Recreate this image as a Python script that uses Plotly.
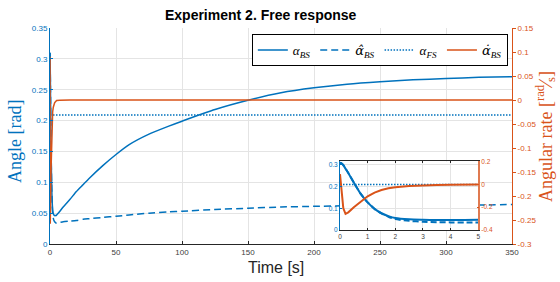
import plotly.graph_objects as go

# ---------------- data ----------------
t_fast = [0, 0.06, 0.12, 0.2, 0.3, 0.5, 0.75, 1.0, 1.25, 1.5, 1.75, 2.0, 2.5, 3.0, 3.5, 4.0, 4.5, 5.0]
alpha_bs_fast = [0.310, 0.306, 0.298, 0.282, 0.262, 0.218, 0.166, 0.127, 0.097, 0.077, 0.064, 0.055,
                 0.049, 0.047, 0.046, 0.046, 0.046, 0.047]
alpha_hat_fast = [0.310, 0.306, 0.298, 0.282, 0.262, 0.218, 0.166, 0.127, 0.097, 0.076, 0.061, 0.050,
                  0.042, 0.038, 0.036, 0.035, 0.034, 0.034]
rate_fast = [0.090, -0.093, -0.210, -0.258, -0.245, -0.200, -0.150, -0.105, -0.072, -0.050, -0.035,
             -0.025, -0.015, -0.009, -0.006, -0.004, -0.002, -0.001]

t_slow = [7.5, 10, 15, 20, 25, 30, 40, 50, 60, 75, 90, 100, 125, 150, 175, 200, 225, 250, 275, 300, 325, 350]
alpha_bs_slow = [0.053, 0.060, 0.072, 0.085, 0.096, 0.107, 0.127, 0.145, 0.161, 0.178, 0.191, 0.199,
                 0.218, 0.233, 0.245, 0.253, 0.259, 0.263, 0.266, 0.268, 0.270, 0.271]
alpha_hat_slow = [0.035, 0.036, 0.037, 0.038, 0.040, 0.041, 0.043, 0.045, 0.047, 0.050, 0.052, 0.053,
                  0.056, 0.058, 0.060, 0.061, 0.062, 0.062, 0.063, 0.063, 0.063, 0.064]
rate_slow = [-0.0005, 0, 0, 0, 0, 0, 0, 0, 0, 0, 0, 0, 0, 0, 0, 0, 0, 0, 0, 0, 0, 0]

t_fs = [0, 350]
alpha_fs = [0.209, 0.209]

x_ticks = [0, 50, 100, 150, 200, 250, 300, 350]
left_ticks = [0, 0.05, 0.1, 0.15, 0.2, 0.25, 0.3, 0.35]
left_labels = ["0", "0.05", "0.1", "0.15", "0.2", "0.25", "0.3", "0.35"]
right_ticks = [-0.3, -0.25, -0.2, -0.15, -0.1, -0.05, 0, 0.05, 0.1, 0.15]
right_labels = ["-0.3", "-0.25", "-0.2", "-0.15", "-0.1", "-0.05", "0", "0.05", "0.1", "0.15"]
inset_x_ticks = [0, 1, 2, 3, 4, 5]
inset_left_ticks = [0, 0.1, 0.2, 0.3]
inset_left_labels = ["0", "0.1", "0.2", "0.3"]
inset_right_ticks = [-0.4, -0.2, 0, 0.2]
inset_right_labels = ["-0.4", "-0.2", "0", "0.2"]

DV = '<span style="font-family:\'DejaVu Serif\'">'
names = ["<i>α</i><sub><i>BS</i></sub>",
         "<i>" + DV + "α̂</span></i><sub><i>BS</i></sub>",
         "<i>α</i><sub><i>FS</i></sub>",
         "<i>" + DV + "α̇</span></i><sub><i>BS</i></sub>"]

BLUE = "#0072BD"
ORANGE = "#D95319"
DARK = "#262626"
GRID = "#e4e4e4"

t_all = t_fast + t_slow
alpha_bs_all = alpha_bs_fast + alpha_bs_slow
alpha_hat_all = alpha_hat_fast + alpha_hat_slow
rate_all = rate_fast + rate_slow

fig = go.Figure()

# main plot
fig.add_trace(go.Scatter(x=t_all, y=alpha_bs_all, mode="lines", name=names[0],
                         line=dict(color=BLUE, width=1.5, shape="spline", smoothing=0.6),
                         xaxis="x", yaxis="y"))
fig.add_trace(go.Scatter(x=t_all, y=alpha_hat_all, mode="lines", name=names[1],
                         line=dict(color=BLUE, width=1.5, dash="7px,4px", shape="spline", smoothing=0.6),
                         xaxis="x", yaxis="y"))
fig.add_trace(go.Scatter(x=t_fs, y=alpha_fs, mode="lines", name=names[2],
                         line=dict(color=BLUE, width=1.5, dash="1.5px,1.5px"), xaxis="x", yaxis="y"))
fig.add_trace(go.Scatter(x=t_all, y=rate_all, mode="lines", name=names[3],
                         line=dict(color=ORANGE, width=1.5), xaxis="x", yaxis="y2"))

# inset
fig.add_trace(go.Scatter(x=t_fast, y=alpha_bs_fast, mode="lines", showlegend=False,
                         line=dict(color=BLUE, width=2, shape="spline", smoothing=0.6),
                         xaxis="x2", yaxis="y3"))
fig.add_trace(go.Scatter(x=t_fast, y=alpha_hat_fast, mode="lines", showlegend=False,
                         line=dict(color=BLUE, width=2, dash="6px,3px", shape="spline", smoothing=0.6),
                         xaxis="x2", yaxis="y3"))
fig.add_trace(go.Scatter(x=t_fs, y=alpha_fs, mode="lines", showlegend=False,
                         line=dict(color=BLUE, width=1.5, dash="1.5px,1.5px"), xaxis="x2", yaxis="y3"))
fig.add_trace(go.Scatter(x=t_fast, y=rate_fast, mode="lines", showlegend=False,
                         line=dict(color=ORANGE, width=2), xaxis="x2", yaxis="y4"))

tickfont_main = dict(family="Liberation Sans", size=8)
tickfont_inset = dict(family="Liberation Sans", size=6.5)

fig.update_layout(
    width=560, height=282,
    margin=dict(l=50, r=48, t=28, b=38),
    paper_bgcolor="white", plot_bgcolor="white",
    showlegend=True,
    title=dict(text="<b>Experiment 2. Free response</b>", x=0.456, xref="paper", xanchor="center",
               y=1 - 15 / 282, yref="container", yanchor="middle",
               font=dict(family="Liberation Sans", size=14, color="black")),
    legend=dict(orientation="h", x=0.991, xanchor="right", y=0.972, yanchor="top",
                bgcolor="white", bordercolor="black", borderwidth=1, itemwidth=30,
                font=dict(family="Liberation Serif", size=13, color="black")),
    xaxis=dict(domain=[0, 1], anchor="y", range=[0, 350], tickvals=x_ticks,
               ticks="inside", ticklen=3, tickcolor=DARK, showline=True, linecolor=DARK, linewidth=1,
               showgrid=True, gridcolor=GRID, zeroline=False,
               tickfont=dict(color="#404040", **tickfont_main)),
    yaxis=dict(domain=[0, 1], anchor="x", range=[0, 0.35], tickvals=left_ticks, ticktext=left_labels,
               ticks="inside", ticklen=3, tickcolor=BLUE, showline=True, linecolor=BLUE, linewidth=1,
               showgrid=True, gridcolor=GRID, zeroline=False,
               tickfont=dict(color=BLUE, **tickfont_main)),
    yaxis2=dict(overlaying="y", side="right", anchor="x", range=[-0.3, 0.15], tickvals=right_ticks,
                ticktext=right_labels, ticks="outside", ticklen=3, tickcolor=ORANGE, showline=True,
                linecolor=ORANGE, linewidth=1, showgrid=False, zeroline=False,
                tickfont=dict(color=ORANGE, **tickfont_main)),
    xaxis2=dict(domain=[0.6277, 0.927], anchor="y3", range=[0, 5], tickvals=inset_x_ticks,
                ticks="inside", ticklen=2, tickcolor=DARK, showline=True, mirror="ticks",
                linecolor=DARK, linewidth=1, showgrid=True, gridcolor=GRID, zeroline=False,
                tickfont=dict(color="#404040", **tickfont_inset)),
    yaxis3=dict(domain=[0.0648, 0.382], anchor="x2", range=[0, 0.315], tickvals=inset_left_ticks,
                ticktext=inset_left_labels, ticks="inside", ticklen=2, tickcolor=BLUE, showline=True,
                linecolor=BLUE, linewidth=1, showgrid=True, gridcolor=GRID, zeroline=False,
                tickfont=dict(color=BLUE, **tickfont_inset)),
    yaxis4=dict(overlaying="y3", side="right", anchor="x2", range=[-0.4, 0.2], tickvals=inset_right_ticks,
                ticktext=inset_right_labels, ticks="inside", ticklen=2, tickcolor=ORANGE, showline=True,
                linecolor="#e07a50", linewidth=1.5, showgrid=False, zeroline=False,
                tickfont=dict(color=ORANGE, **tickfont_inset)),
    shapes=[dict(type="rect", xref="x2 domain", yref="y3 domain", x0=0, x1=1, y0=0, y1=1,
                 fillcolor="white", line=dict(width=0), layer="below")],
    annotations=[
        dict(text="Angle [rad]", textangle=-90, xref="paper", yref="paper", x=-0.0758, y=0.477,
             xanchor="center", yanchor="middle", showarrow=False,
             font=dict(family="Liberation Serif", size=18, color=BLUE)),
        dict(text="Angular rate [<sup>rad</sup>⁄<sub>s</sub>]", textangle=-90, xref="paper", yref="paper",
             x=1.0714, y=0.5, xanchor="center", yanchor="middle", showarrow=False,
             font=dict(family="Liberation Serif", size=18, color=ORANGE)),
        dict(text="Time [s]", xref="paper", yref="paper", x=0.49, y=-0.111,
             xanchor="center", yanchor="middle", showarrow=False,
             font=dict(family="Liberation Sans", size=16, color=DARK)),
    ],
)

fig.write_html("out.html", config={"displayModeBar": False},
               post_script="document.body.style.margin='0px';")
